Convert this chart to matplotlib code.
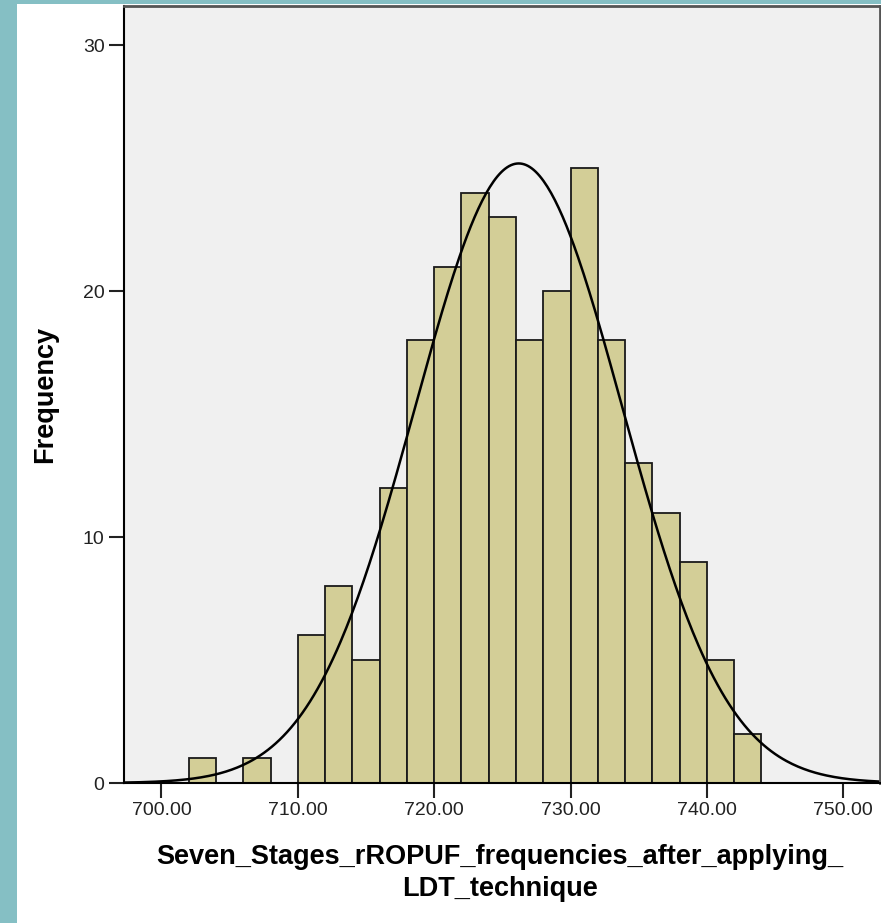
import numpy as np
import matplotlib
matplotlib.use("Agg")
import matplotlib.pyplot as plt
from matplotlib.patches import Rectangle

# histogram bins (left edge, width 2) and counts
bin_edges = [702, 704, 706, 708, 710, 712, 714, 716, 718, 720, 722, 724,
             726, 728, 730, 732, 734, 736, 738, 740, 742, 744]
counts = [1, 0, 1, 0, 6, 8, 5, 12, 18, 21, 24, 23, 18, 20, 25, 18, 13, 11, 9, 5, 2]

# fitted normal curve parameters
fit_mean = 726.2
fit_sd = 7.6

xticks = [700, 710, 720, 730, 740, 750]
yticks = [0, 10, 20, 30]

plt.rcParams['font.family'] = ['Liberation Sans', 'DejaVu Sans']

W, H = 881, 923
fig = plt.figure(figsize=(W / 100, H / 100), dpi=100)
fig.patch.set_facecolor('white')
teal = '#85BFC4'
fig.add_artist(Rectangle((0, 0), 17 / W, 1, transform=fig.transFigure,
                         facecolor=teal, edgecolor='none', zorder=-5))
fig.add_artist(Rectangle((0, 1 - 4 / H), 1, 4 / H, transform=fig.transFigure,
                         facecolor=teal, edgecolor='none', zorder=-5))

ax = fig.add_axes([124 / W, (H - 783) / H, (880 - 124) / W, (783 - 6) / H])
ax.set_facecolor('#F0F0F0')

ax.hist(np.repeat(np.array(bin_edges[:-1]) + 1, counts), bins=bin_edges,
        color='#D3CE97', edgecolor='#1a1a1a', linewidth=1.3)

n = sum(counts)
bw = 2
xs = np.linspace(697, 753, 400)
pdf = np.exp(-0.5 * ((xs - fit_mean) / fit_sd) ** 2) / (fit_sd * np.sqrt(2 * np.pi))
ax.plot(xs, pdf * n * bw, color='black', linewidth=1.8)

ax.set_xlim(697.25, 752.7)
ax.set_ylim(0, 31.6)
ax.set_xticks(xticks)
ax.set_xticklabels(['%.2f' % t for t in xticks])
ax.set_yticks(yticks)
ax.tick_params(axis='both', length=11, width=1.5, labelsize=14, colors='#222222',
               pad=3)

for side in ['left', 'bottom']:
    ax.spines[side].set_linewidth(1.5)
for side in ['top', 'right']:
    ax.spines[side].set_color('#555555')
    ax.spines[side].set_linewidth(2)

ax.set_ylabel('Frequency', fontsize=19.5, fontweight='bold')
ax.yaxis.set_label_coords(-(124 - 58) / (880 - 124), 0.5)
ax.set_xlabel('Seven_Stages_rROPUF_frequencies_after_applying_\nLDT_technique',
              fontsize=19.5, fontweight='bold', linespacing=1.25)
ax.xaxis.set_label_coords((500 - 124) / (880 - 124), -(873 - 783) / (783 - 6))
ax.xaxis.label.set_va('center')

fig.savefig('out.png', dpi=100)
